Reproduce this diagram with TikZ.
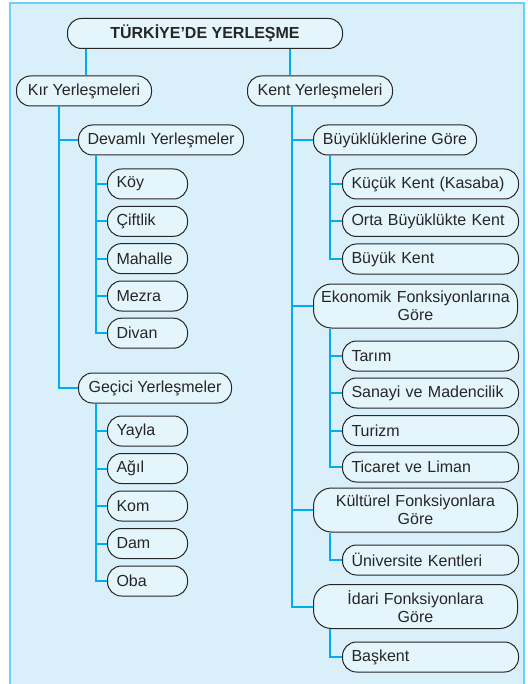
\documentclass[tikz,border=0pt]{standalone}
\usepackage{fontspec}
\setmainfont{Liberation Sans}
\usetikzlibrary{positioning}
\definecolor{panelblue}{HTML}{D9F0FA}
\definecolor{frameblue}{HTML}{6DCFF6}
\definecolor{boxfill}{HTML}{E4F5FC}
\definecolor{linkblue}{HTML}{00AEEF}
\definecolor{inkgray}{HTML}{262626}

\begin{document}
\begin{tikzpicture}[x=1pt, y=-1pt,
    pill/.style={draw=inkgray, line width=1pt, fill=boxfill, rounded corners=14pt,
        anchor=west, minimum height=30pt, inner xsep=9pt, inner ysep=0pt,
        text=inkgray, font=\fontsize{16}{18}\selectfont},
    leafL/.style={pill, text width=62pt, align=left},
    leafR/.style={pill, text width=158pt, align=left},
    twoline/.style={pill, inner xsep=4pt, text width=196pt, align=center, minimum height=44pt, rounded corners=18pt},
    link/.style={linkblue, line width=2pt}]
    \useasboundingbox (0,0) rectangle (527,684);

    % Panel
    \draw[fill=panelblue, draw=frameblue, line width=2pt] (10,3) rectangle (524,700);

    % Title
    \node[pill, minimum width=275pt, text=black!85, font=\bfseries\fontsize{16}{18}\selectfont] (title) at (67,33.5) {TÜRKİYE’DE YERLEŞME};

    % Main branches
    \node[pill, minimum width=135pt] (kir) at (16,91) {Kır Yerleşmeleri};
    \node[pill, minimum width=145pt] (kent) at (247,91) {Kent Yerleşmeleri};
    \draw[link] ([xshift=19pt]title.south west) -- ([xshift=70pt]kir.north west);
    \draw[link] ([xshift=223pt]title.south west) -- ([xshift=43pt]kent.north west);

    % Kir: groups
    \node[pill, minimum width=164pt] (devamli) at (78,140) {Devamlı Yerleşmeler};
    \node[pill, minimum width=153pt] (gecici) at (78,388) {Geçici Yerleşmeler};
    \draw[link] ([xshift=43pt]kir.south west) |- (devamli.west);
    \draw[link] ([xshift=43pt]kir.south west) |- (gecici.west);

    % Devamli leaves
    \node[leafL] (koy) at (107,184) {Köy};
    \node[leafL] (ciftlik) at (107,221.3) {Çiftlik};
    \node[leafL] (mahalle) at (107,258.6) {Mahalle};
    \node[leafL] (mezra) at (107,296) {Mezra};
    \node[leafL] (divan) at (107,333.2) {Divan};
    \draw[link] ([xshift=18pt]devamli.south west) |- (koy.west);
    \draw[link] ([xshift=18pt]devamli.south west) |- (ciftlik.west);
    \draw[link] ([xshift=18pt]devamli.south west) |- (mahalle.west);
    \draw[link] ([xshift=18pt]devamli.south west) |- (mezra.west);
    \draw[link] ([xshift=18pt]devamli.south west) |- (divan.west);

    % Gecici leaves
    \node[leafL] (yayla) at (107,431) {Yayla};
    \node[leafL] (agil) at (107,468.5) {Ağıl};
    \node[leafL] (kom) at (107,506) {Kom};
    \node[leafL] (dam) at (107,543.5) {Dam};
    \node[leafL] (oba) at (107,581) {Oba};
    \draw[link] ([xshift=18pt]gecici.south west) |- (yayla.west);
    \draw[link] ([xshift=18pt]gecici.south west) |- (agil.west);
    \draw[link] ([xshift=18pt]gecici.south west) |- (kom.west);
    \draw[link] ([xshift=18pt]gecici.south west) |- (dam.west);
    \draw[link] ([xshift=18pt]gecici.south west) |- (oba.west);

    % Kent: groups
    \node[pill, minimum width=163pt] (buyukluk) at (313,140) {Büyüklüklerine Göre};
    \node[twoline] (ekonomik) at (313,306) {Ekonomik Fonksiyonlarına\\Göre};
    \node[twoline] (kultur) at (313,510) {Kültürel Fonksiyonlara\\Göre};
    \node[twoline] (idari) at (313,606.5) {İdari Fonksiyonlara\\Göre};
    \draw[link] ([xshift=45pt]kent.south west) |- (buyukluk.west);
    \draw[link] ([xshift=45pt]kent.south west) |- (ekonomik.west);
    \draw[link] ([xshift=45pt]kent.south west) |- (kultur.west);
    \draw[link] ([xshift=45pt]kent.south west) |- (idari.west);

    % Buyukluk leaves
    \node[leafR] (kucuk) at (342,184) {Küçük Kent (Kasaba)};
    \node[leafR] (orta) at (342,221.5) {Orta Büyüklükte Kent};
    \node[leafR] (buyukkent) at (342,259) {Büyük Kent};
    \draw[link] ([xshift=17pt]buyukluk.south west) |- (kucuk.west);
    \draw[link] ([xshift=17pt]buyukluk.south west) |- (orta.west);
    \draw[link] ([xshift=17pt]buyukluk.south west) |- (buyukkent.west);

    % Ekonomik leaves
    \node[leafR] (tarim) at (342,356) {Tarım};
    \node[leafR] (sanayi) at (342,393) {Sanayi ve Madencilik};
    \node[leafR] (turizm) at (342,430.5) {Turizm};
    \node[leafR] (ticaret) at (342,467) {Ticaret ve Liman};
    \draw[link] ([xshift=17pt]ekonomik.south west) |- (tarim.west);
    \draw[link] ([xshift=17pt]ekonomik.south west) |- (sanayi.west);
    \draw[link] ([xshift=17pt]ekonomik.south west) |- (turizm.west);
    \draw[link] ([xshift=17pt]ekonomik.south west) |- (ticaret.west);

    % Kultur and idari leaves
    \node[leafR] (universite) at (342,560) {Üniversite Kentleri};
    \node[leafR] (baskent) at (342,657) {Başkent};
    \draw[link] ([xshift=17pt]kultur.south west) |- (universite.west);
    \draw[link] ([xshift=17pt]idari.south west) |- (baskent.west);
\end{tikzpicture}
\end{document}
